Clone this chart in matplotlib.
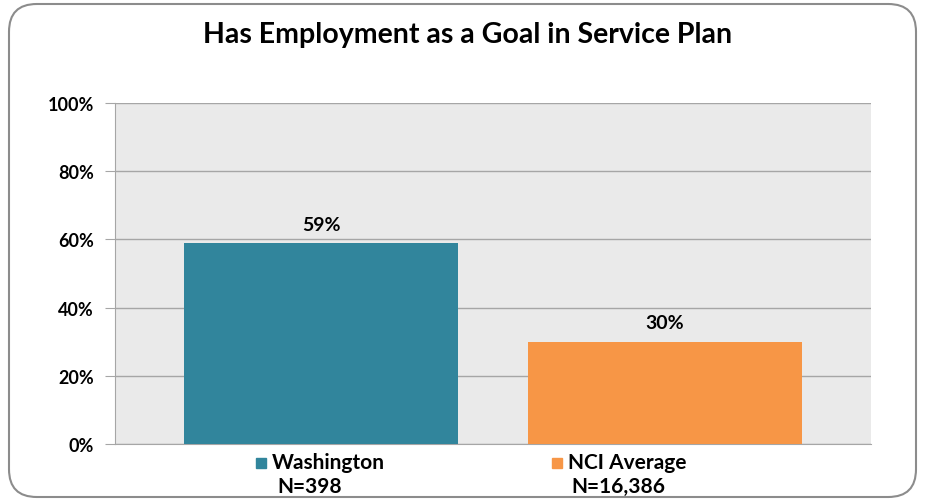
import matplotlib
matplotlib.use("Agg")
import matplotlib.pyplot as plt
from matplotlib.patches import FancyBboxPatch, Rectangle

categories = ["Washington", "NCI Average"]
values = [59, 30]
sample_sizes = ["N=398", "N=16,386"]
colors = ["#31859C", "#F79646"]
yticks = [0, 20, 40, 60, 80, 100]

plt.rcParams["font.family"] = ["Lato", "DejaVu Sans"]

fig = plt.figure(figsize=(9.26, 5.02), dpi=100)
ax = fig.add_axes([115/926, 57/502, 756/926, 341/502])
ax.set_facecolor("#EAEAEA")

x = list(range(len(categories)))
ax.bar(x, values, width=0.797, color=colors, zorder=3)
for xi, v in zip(x, values):
    ax.text(xi, v + 3, f"{v}%", ha="center", va="bottom", fontsize=14, fontweight="bold")

ax.set_xlim(-0.599, 1.599)
ax.set_ylim(0, 100)
ax.set_yticks(yticks)
ax.set_yticklabels([f"{t}%" for t in yticks], fontsize=13, fontweight="bold")
ax.set_xticks([])
ax.grid(axis="y", color="#A6A6A6", linewidth=1, zorder=0)
ax.tick_params(axis="y", length=7, color="#A6A6A6", pad=8)
for s in ["top", "right"]:
    ax.spines[s].set_visible(False)
for s in ["left", "bottom"]:
    ax.spines[s].set_color("#A6A6A6")

fig.text(468/926, 1 - 35/502, "Has Employment as a Goal in Service Plan",
         ha="center", va="center", fontsize=20.5, fontweight="bold")

# legend-like labels under the bars
leg_x = [256, 552]
n_x = [310, 618]
for i, cat in enumerate(categories):
    fig.patches.append(Rectangle((leg_x[i]/926, 1 - 469/502), 10/926, 10/502,
                                 transform=fig.transFigure, color=colors[i]))
    fig.text((leg_x[i] + 16)/926, 1 - 463/502, cat, ha="left", va="center",
             fontsize=15, fontweight="bold")
    fig.text(n_x[i]/926, 1 - 487/502, sample_sizes[i], ha="center", va="center",
             fontsize=15, fontweight="bold")

fig.patches.append(FancyBboxPatch((9/926, 4/502), 907/926, 493/502,
                                  boxstyle="round,pad=0,rounding_size=0.03",
                                  transform=fig.transFigure, fill=False,
                                  edgecolor="#8C8C8C", linewidth=1.5,
                                  mutation_aspect=926/502))

fig.savefig("out.png", dpi=100)
